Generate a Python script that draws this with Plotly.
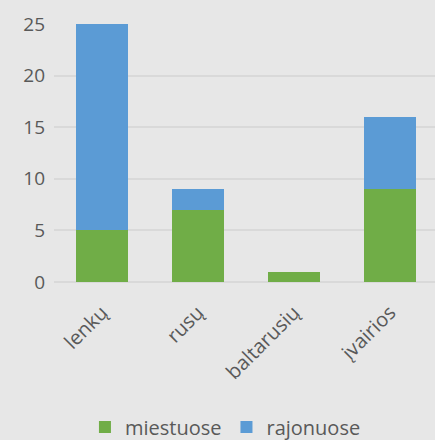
import plotly.graph_objects as go

categories = ["lenkų", "rusų", "baltarusių", "įvairios"]
miestuose = [5, 7, 1, 9]
rajonuose = [20, 2, 0, 7]
y_ticks = [0, 5, 10, 15, 20, 25]

GREEN = "#70AD47"
BLUE = "#5B9BD5"
TEXT = "#595959"
BG = "#E7E7E7"

fig = go.Figure()
fig.add_trace(go.Bar(x=categories, y=miestuose, name="miestuose", marker_color=GREEN, marker_line_width=0))
fig.add_trace(go.Bar(x=categories, y=rajonuose, name="rajonuose", marker_color=BLUE, marker_line_width=0))

fig.update_layout(
    width=435, height=440,
    barmode="stack", bargap=0.46,
    paper_bgcolor=BG, plot_bgcolor=BG,
    margin=dict(l=54, r=0, t=24, b=158, autoexpand=False),
    font=dict(family="Open Sans", size=18, color=TEXT),
    showlegend=True,
    legend=dict(orientation="h", x=0.45, xanchor="center",
                y=-0.562, yanchor="middle", font=dict(size=20, color=TEXT),
                traceorder="normal", bgcolor="rgba(0,0,0,0)"),
    xaxis=dict(range=[-0.5, 3.47], tickangle=-45, showgrid=False, showline=False,
               ticks="", tickfont=dict(size=20, color=TEXT), automargin=False,
               ticklabelstandoff=14),
    yaxis=dict(range=[0, 25], tickvals=y_ticks, showgrid=True, gridcolor="#D9D9D9",
               gridwidth=1.5, zeroline=True, zerolinecolor="#D9D9D9", zerolinewidth=1.5,
               ticks="", ticklabelstandoff=8, tickfont=dict(size=19, color=TEXT),
               automargin=False),
)

fig.write_html("out.html", config={"displayModeBar": False},
               post_script="document.body.style.margin='0';document.body.style.background='#E7E7E7';")
